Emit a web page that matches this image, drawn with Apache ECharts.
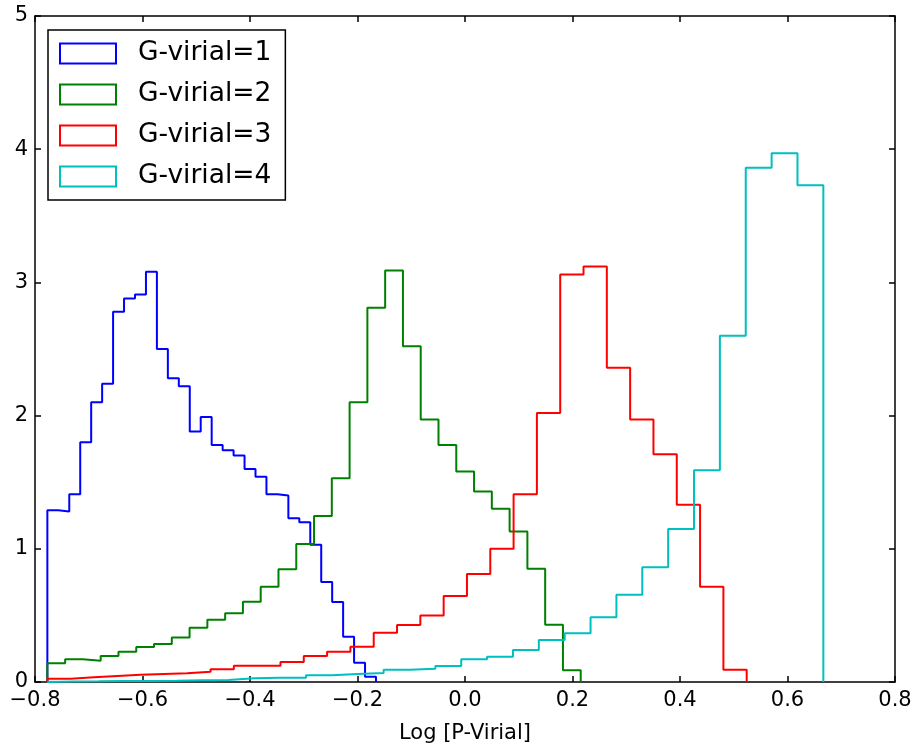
<!DOCTYPE html>
<html>
<head>
<meta charset="utf-8">
<script src="https://cdn.jsdelivr.net/npm/echarts@6/dist/echarts.min.js"></script>
<style>
html,body{margin:0;padding:0;background:#fff;}
#chart{width:917px;height:744px;}
</style>
</head>
<body>
<div id="chart"></div>
<script>
// ---- data ----
const seriesNames = ['G-virial=1', 'G-virial=2', 'G-virial=3', 'G-virial=4'];
const seriesColors = ['#0000ff', '#008000', '#ff0000', '#00bfbf'];

// histogram ranges (first and last bin edge) and bin heights, 30 bins each
const range1 = [-0.777, -0.1656];
const heights1 = [1.29, 1.28, 1.41, 1.80, 2.10, 2.24, 2.78, 2.88, 2.91, 3.08,
                  2.50, 2.28, 2.22, 1.88, 1.99, 1.78, 1.74, 1.70, 1.60, 1.54,
                  1.41, 1.40, 1.23, 1.20, 1.03, 0.75, 0.60, 0.34, 0.145, 0.04];

const range2 = [-0.777, 0.2153];
const heights2 = [0.14, 0.17, 0.16, 0.195, 0.228, 0.263, 0.285, 0.335, 0.408, 0.468,
                  0.516, 0.603, 0.716, 0.846, 1.036, 1.246, 1.53, 2.10, 2.81, 3.09,
                  2.52, 1.97, 1.78, 1.58, 1.43, 1.30, 1.13, 0.85, 0.43, 0.088];

const range3 = [-0.777, 0.5241];
const heights3 = [0.025, 0.035, 0.045, 0.055, 0.06, 0.065, 0.077, 0.095, 0.122, 0.122,
                  0.15, 0.195, 0.228, 0.265, 0.37, 0.428, 0.50, 0.646, 0.81, 1.00,
                  1.41, 2.02, 3.06, 3.12, 2.36, 1.97, 1.71, 1.33, 0.716, 0.092];

const range4 = [-0.777, 0.6667];
const heights4 = [0.004, 0.005, 0.007, 0.008, 0.01, 0.013, 0.015, 0.028, 0.032, 0.032,
                  0.05, 0.06, 0.068, 0.092, 0.10, 0.12, 0.17, 0.19, 0.24, 0.315,
                  0.366, 0.486, 0.655, 0.861, 1.149, 1.589, 2.60, 3.86, 3.97, 3.73];

const xTicks = [-0.8, -0.6, -0.4, -0.2, 0.0, 0.2, 0.4, 0.6, 0.8];
const yTicks = [0, 1, 2, 3, 4, 5];
const xTitle = 'Log [P-Virial]';

// ---- build step outlines (histtype='step') ----
function stepPoints(range, h) {
  const n = h.length;
  const edges = [];
  for (let i = 0; i <= n; i++) edges.push(range[0] + (range[1] - range[0]) * i / n);
  const pts = [[edges[0], 0]];
  for (let i = 0; i < n; i++) {
    pts.push([edges[i], h[i]]);
    pts.push([edges[i + 1], h[i]]);
  }
  pts.push([edges[n], 0]);
  return pts;
}
const allRanges = [range1, range2, range3, range4];
const allHeights = [heights1, heights2, heights3, heights4];

const FONT = 'DejaVu Sans';
const fmtX = v => (v < 0 ? '\u2212' : '') + Math.abs(v).toFixed(1);

const chart = echarts.init(document.getElementById('chart'), null, {renderer: 'canvas'});
const axisLineStyle = {color: '#000', width: 1.5};
chart.setOption({
  animation: false,
  backgroundColor: '#fff',
  grid: {left: 35, top: 16, right: 22, bottom: 62, containLabel: false, outerBoundsMode: 'none'},
  xAxis: [{
    type: 'value', min: xTicks[0], max: xTicks[xTicks.length - 1], interval: 0.2,
    position: 'bottom',
    axisLine: {show: true, onZero: false, lineStyle: axisLineStyle},
    axisTick: {show: true, inside: true, length: 6, lineStyle: {color: '#000', width: 1.5}},
    axisLabel: {formatter: fmtX, color: '#000', fontFamily: FONT, fontSize: 21, margin: 8},
    splitLine: {show: false},
    name: xTitle, nameLocation: 'middle', nameGap: 41,
    nameTextStyle: {color: '#000', fontFamily: FONT, fontSize: 21}
  }, {
    type: 'value', min: xTicks[0], max: xTicks[xTicks.length - 1], interval: 0.2,
    position: 'top',
    axisLine: {show: true, onZero: false, lineStyle: axisLineStyle},
    axisTick: {show: true, inside: true, length: 6, lineStyle: {color: '#000', width: 1.5}},
    axisLabel: {show: false},
    splitLine: {show: false}
  }],
  yAxis: [{
    type: 'value', min: yTicks[0], max: yTicks[yTicks.length - 1], interval: 1,
    position: 'left',
    axisLine: {show: true, onZero: false, lineStyle: axisLineStyle},
    axisTick: {show: true, inside: true, length: 6, lineStyle: {color: '#000', width: 1.5}},
    axisLabel: {color: '#000', fontFamily: FONT, fontSize: 21, margin: 7},
    splitLine: {show: false}
  }, {
    type: 'value', min: yTicks[0], max: yTicks[yTicks.length - 1], interval: 1,
    position: 'right',
    axisLine: {show: true, onZero: false, lineStyle: axisLineStyle},
    axisTick: {show: true, inside: true, length: 6, lineStyle: {color: '#000', width: 1.5}},
    axisLabel: {show: false},
    splitLine: {show: false}
  }],
  legend: {
    orient: 'vertical', left: 48, top: 30,
    backgroundColor: '#fff', borderColor: '#000', borderWidth: 1.5, borderRadius: 0,
    padding: [10, 14, 10, 11],
    itemWidth: 56, itemHeight: 20, itemGap: 14,
    textStyle: {color: '#000', fontFamily: FONT, fontSize: 26.5, padding: [0, 0, 0, 17]},
    data: seriesNames.map((n, i) => ({
      name: n, icon: 'rect',
      itemStyle: {color: 'rgba(255,255,255,0)', borderColor: seriesColors[i], borderWidth: 2}
    })),
    z: 10
  },
  series: seriesNames.map((n, i) => ({
    name: n, type: 'line', data: stepPoints(allRanges[i], allHeights[i]),
    showSymbol: false, symbol: 'none',
    lineStyle: {color: seriesColors[i], width: 2},
    itemStyle: {color: seriesColors[i]},
    silent: true, z: 2
  }))
});
</script>
</body>
</html>
